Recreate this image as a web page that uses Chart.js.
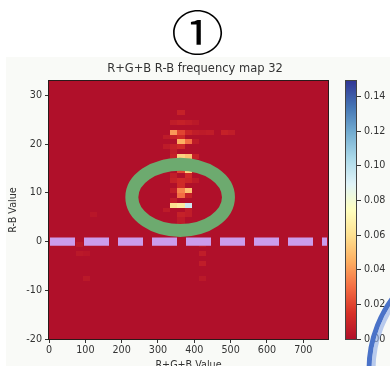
<!DOCTYPE html>
<html>
<head>
<meta charset="utf-8">
<script src="https://cdn.jsdelivr.net/npm/chart.js@4.4.1/dist/chart.umd.min.js"></script>
<style>
  html, body { margin: 0; padding: 0; background: #fff; overflow: hidden; width: 390px; height: 366px; }
  #badge { height: 57px; line-height: 60px; text-align: center; font-family: "Noto Sans CJK JP"; font-size: 47px; color: #000; padding-left: 4px; }
  #badge span { display: inline-block; transform: scaleX(1.12); }
  #wrap { position: absolute; left: 0; top: 57px; width: 390px; height: 318px;
          background: linear-gradient(to right, #fff 6px, #f9faf7 6px); }
</style>
</head>
<body>
<div id="badge"><span>①</span></div>
<div id="wrap"><canvas id="freqMap" width="390" height="318"></canvas></div>
<script>
// 2D histogram: bin left edge (R+G+B), bin lower edge (R-B), relative frequency
const binWidthX = 20;
const binHeightY = 1;
const binStartX = -7;

const cellX = [353,
  333, 353, 373, 393,
  333, 353, 373, 393, 413, 433, 473, 493,
  313, 333, 353,
  353, 373, 393,
  313, 333, 353,
  333, 333, 353, 373, 393,
  313, 353,
  333, 353, 373,
  353, 373, 393,
  333, 373,
  333, 353, 373, 393,
  353,
  333, 353, 373,
  353, 373,
  333,
  333, 353, 373,
  313, 373,
  353, 373,
  353, 353, 333, 113,
  413, 413, 413, 413,
  73, 73, 93, 93];
const cellY = [26,
  24, 24, 24, 24,
  22, 22, 22, 22, 22, 22, 22, 22,
  21, 21, 21,
  20, 20, 20,
  19, 19, 19,
  18, 17, 17, 17, 17,
  16, 16,
  15, 15, 15,
  14, 14, 14,
  13, 13,
  12, 12, 12, 12,
  11,
  10, 10, 10,
  9, 9,
  8,
  7, 7, 7,
  6, 6,
  5, 5,
  4, 3, 2, 5,
  -1, -3, -5, -8,
  -1, -3, -3, -8];
const cellV = [0.008,
  0.006, 0.008, 0.006, 0.004,
  0.040, 0.020, 0.010, 0.006, 0.005, 0.006, 0.008, 0.006,
  0.005, 0.008, 0.012,
  0.045, 0.030, 0.005,
  0.005, 0.008, 0.012,
  0.006, 0.008, 0.055, 0.050, 0.008,
  0.005, 0.012,
  0.006, 0.012, 0.012,
  0.020, 0.055, 0.006,
  0.006, 0.012,
  0.008, 0.012, 0.010, 0.005,
  0.012,
  0.006, 0.035, 0.050,
  0.030, 0.008,
  0.006,
  0.060, 0.065, 0.095,
  0.005, 0.006,
  0.008, 0.006,
  0.005, 0.005, 0.004, 0.003,
  0.005, 0.006, 0.006, 0.004,
  0.004, 0.004, 0.003, 0.004];

const xTicks = [0, 100, 200, 300, 400, 500, 600, 700];
const yTicks = [-20, -10, 0, 10, 20, 30];
const cbarTicks = [0, 0.02, 0.04, 0.06, 0.08, 0.10, 0.12, 0.14];
const vmax = 0.149;

// RdYlBu colormap
const rdylbu = ['#b0102a', '#d73027', '#f46d43', '#fdae61', '#fee090', '#ffffbf',
                '#e0f3f8', '#abd9e9', '#74add1', '#4575b4', '#313695'];

function hexToRgb(h) {
  return [parseInt(h.slice(1, 3), 16), parseInt(h.slice(3, 5), 16), parseInt(h.slice(5, 7), 16)];
}

function colorFor(v) {
  let t = Math.max(0, Math.min(1, v / vmax)) * (rdylbu.length - 1);
  let i = Math.min(Math.floor(t), rdylbu.length - 2);
  let f = t - i;
  let a = hexToRgb(rdylbu[i]), b = hexToRgb(rdylbu[i + 1]);
  let c = a.map((x, k) => Math.round(x + (b[k] - x) * f));
  return 'rgb(' + c.join(',') + ')';
}

const tickFont = { family: 'DejaVu Sans', size: 9.6 };

const heatmap = {
  id: 'heatmap',
  beforeDatasetsDraw(chart) {
    const { ctx, chartArea: a, scales: { x, y } } = chart;
    const lookup = {};
    cellX.forEach((cx, i) => { lookup[cx + ',' + cellY[i]] = cellV[i]; });

    ctx.save();
    ctx.beginPath();
    ctx.rect(a.left, a.top, a.right - a.left, a.bottom - a.top);
    ctx.clip();
    for (let bx = binStartX; bx < x.max; bx += binWidthX) {
      for (let by = y.min; by < y.max; by += binHeightY) {
        const v = lookup[bx + ',' + by] || 0;
        const x0 = Math.round(x.getPixelForValue(bx));
        const x1 = Math.round(x.getPixelForValue(bx + binWidthX));
        const y0 = Math.round(y.getPixelForValue(by + binHeightY));
        const y1 = Math.round(y.getPixelForValue(by));
        ctx.fillStyle = colorFor(v);
        ctx.fillRect(x0, y0, x1 - x0, y1 - y0);
      }
    }
    ctx.restore();
  },
  afterDatasetsDraw(chart) {
    const { ctx, chartArea: a, scales: { x, y, cb } } = chart;

    ctx.save();
    ctx.beginPath();
    ctx.rect(a.left, a.top, a.right - a.left, a.bottom - a.top);
    ctx.clip();

    // green ring around the cluster
    ctx.strokeStyle = '#6daa6f';
    ctx.lineWidth = 13;
    ctx.beginPath();
    const ex = x.getPixelForValue(361), ey = y.getPixelForValue(9.1);
    const rx = x.getPixelForValue(361 + 133) - ex, ry = ey - y.getPixelForValue(9.1 + 6.8);
    ctx.ellipse(ex, ey, rx, ry, 0, 0, Math.PI * 2);
    ctx.stroke();

    // dashed marker at R-B = 0
    ctx.strokeStyle = '#cb9cec';
    ctx.lineWidth = 8.4;
    ctx.setLineDash([25, 9]);
    ctx.beginPath();
    const y0 = y.getPixelForValue(0);
    ctx.moveTo(a.left + 1, y0);
    ctx.lineTo(a.right - 1, y0);
    ctx.stroke();
    ctx.restore();

    // axes frame
    ctx.save();
    ctx.strokeStyle = '#2a1a1a';
    ctx.lineWidth = 1;
    ctx.strokeRect(a.left - 0.5, a.top - 0.5, a.right - a.left + 1, a.bottom - a.top + 1);

    // colorbar
    const top = cb.getPixelForValue(cb.max), bot = cb.getPixelForValue(cb.min);
    const grad = ctx.createLinearGradient(0, bot, 0, top);
    rdylbu.forEach((c, i) => grad.addColorStop(i / (rdylbu.length - 1), c));
    ctx.fillStyle = grad;
    ctx.fillRect(cb.left - 11, top, 11, bot - top);
    ctx.strokeStyle = '#444';
    ctx.lineWidth = 1;
    ctx.strokeRect(cb.left - 11.5, top - 0.5, 11, bot - top + 1);
    ctx.restore();
  },
  afterDraw(chart) {
    // blue circle edge in the lower right corner
    const { ctx } = chart;
    ctx.save();
    ctx.lineWidth = 5;
    ctx.strokeStyle = '#4a72c8';
    ctx.beginPath();
    ctx.arc(490, 313, 121, 0, Math.PI * 2);
    ctx.stroke();
    ctx.lineWidth = 4;
    ctx.strokeStyle = 'rgba(140,170,230,0.6)';
    ctx.beginPath();
    ctx.arc(490, 313, 116.5, 0, Math.PI * 2);
    ctx.stroke();
    ctx.restore();
  }
};

const fixedTicks = (list) => (scale) => { scale.ticks = list.map(v => ({ value: v })); };

new Chart(document.getElementById('freqMap'), {
  type: 'scatter',
  data: { datasets: [{ data: [], pointRadius: 0 }] },
  options: {
    responsive: false,
    animation: false,
    layout: { padding: 0 },
    plugins: {
      legend: { display: false },
      tooltip: { enabled: false },
      title: {
        display: true,
        text: 'R+G+B R-B frequency map 32',
        color: '#333',
        font: { family: 'DejaVu Sans', size: 11.5, weight: 'normal' },
        padding: { top: 5, bottom: 5.2 }
      }
    },
    scales: {
      x: {
        type: 'linear', position: 'bottom', min: 0, max: 768,
        afterBuildTicks: fixedTicks(xTicks),
        afterFit: (s) => { s.height = 36; },
        ticks: { font: tickFont, color: '#333', padding: 2, maxRotation: 0 },
        grid: { drawOnChartArea: false, tickLength: 4, color: '#333' },
        border: { display: false },
        title: { display: true, text: 'R+G+B Value', color: '#333', font: tickFont, padding: { top: 0, bottom: 4.2 } }
      },
      y: {
        type: 'linear', position: 'left', min: -20, max: 33,
        afterBuildTicks: fixedTicks(yTicks),
        afterFit: (s) => { s.width = 49; },
        ticks: { font: tickFont, color: '#333', padding: 3 },
        grid: { drawOnChartArea: false, tickLength: 4, color: '#333' },
        border: { display: false },
        title: { display: true, text: 'R-B Value', color: '#333', font: tickFont, padding: { top: 8.2, bottom: 0 } }
      },
      gap: {
        type: 'linear', position: 'right', weight: 0,
        afterFit: (s) => { s.width = 29; },
        ticks: { display: false },
        grid: { display: false },
        border: { display: false }
      },
      cb: {
        type: 'linear', position: 'right', weight: 1, min: 0, max: vmax,
        afterBuildTicks: fixedTicks(cbarTicks),
        afterFit: (s) => { s.width = 33; },
        ticks: { font: tickFont, color: '#333', padding: 3, callback: (v) => v.toFixed(2) },
        grid: { drawOnChartArea: false, tickLength: 4, color: '#333' },
        border: { display: false }
      }
    }
  },
  plugins: [heatmap]
});
</script>
</body>
</html>
